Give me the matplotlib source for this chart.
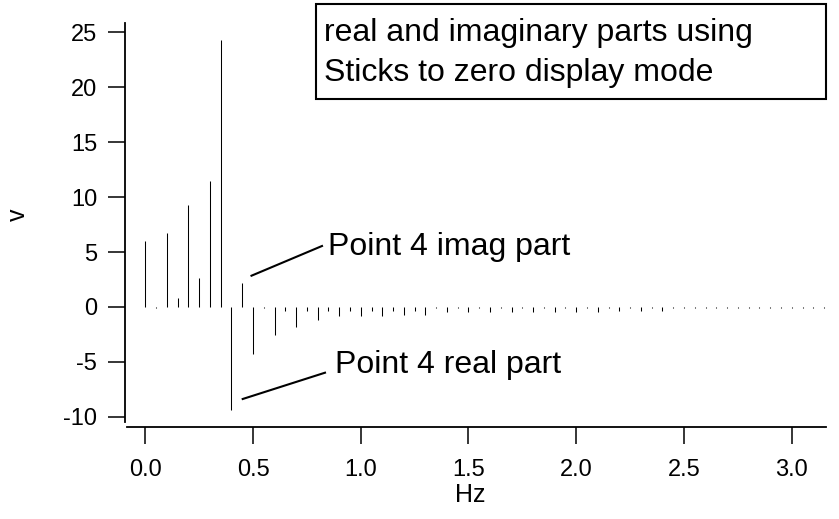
import numpy as np
import matplotlib
matplotlib.use("Agg")
import matplotlib.pyplot as plt

# Complex FFT points: real part drawn at point_hz, imaginary part half a bin later
point_hz = [0.0, 0.1, 0.2, 0.3, 0.4, 0.5, 0.6, 0.7, 0.8, 0.9,
            1.0, 1.1, 1.2, 1.3, 1.4, 1.5, 1.6, 1.7, 1.8, 1.9,
            2.0, 2.1, 2.2, 2.3, 2.4, 2.5, 2.6, 2.7, 2.8, 2.9,
            3.0, 3.1]
half_bin = 0.05
real_part = [6.0, 6.7, 9.25, 11.45, -9.4, -4.3, -2.55, -1.8, -1.15, -0.8,
             -0.8, -0.8, -0.75, -0.7, -0.45, -0.45, -0.45, -0.45, -0.42, -0.42,
             -0.42, -0.42, -0.4, -0.4, -0.38, -0.08, -0.08, -0.08, -0.08, -0.08,
             -0.08, -0.08]
imag_part = [-0.08, 0.8, 2.6, 24.3, 2.2, -0.1, -0.4, -0.4, -0.4, -0.4,
             -0.4, -0.4, -0.4, -0.12, -0.12, -0.12, -0.12, -0.12, -0.12, -0.12,
             -0.12, -0.12, -0.12, -0.12, -0.08, -0.08, -0.08, -0.08, -0.08, -0.08,
             -0.08, -0.08]

x_ticks = [0.0, 0.5, 1.0, 1.5, 2.0, 2.5, 3.0]
x_tick_labels = ["0.0", "0.5", "1.0", "1.5", "2.0", "2.5", "3.0"]
y_ticks = [-10, -5, 0, 5, 10, 15, 20, 25]
y_tick_labels = ["-10", "-5", "0", "5", "10", "15", "20", "25"]

plt.rcParams['font.family'] = ['Liberation Sans', 'DejaVu Sans']

W, H = 839, 519
fig = plt.figure(figsize=(W / 100, H / 100), dpi=100)

def fx(px):
    return px / W

def fy(py):
    return 1 - py / H

ax = fig.add_axes([fx(125), fy(427), fx(826) - fx(125), fy(23) - fy(427)])

# interleave real and imaginary sticks
xs = []
ys = []
for hz, re, im in zip(point_hz, real_part, imag_part):
    xs.append(hz)
    ys.append(re)
    xs.append(hz + half_bin)
    ys.append(im)
ax.vlines(xs, 0, ys, colors='black', linewidth=0.75)

ax.set_xlim(-0.094, 3.159)
ax.set_ylim(-10.91, 25.82)

ax.set_xticks(x_ticks)
ax.set_xticklabels(x_tick_labels)
ax.set_yticks(y_ticks)
ax.set_yticklabels(y_tick_labels)

for s in ['top', 'right']:
    ax.spines[s].set_visible(False)
for s in ['left', 'bottom']:
    ax.spines[s].set_linewidth(1.3)
ax.spines['left'].set_bounds(-10.45, 25.82)
ax.spines['bottom'].set_bounds(-0.085, 3.159)

ax.tick_params(axis='both', direction='out', length=12, width=1.1,
               labelsize=17, colors='black')
ax.tick_params(axis='x', pad=11)
ax.tick_params(axis='y', pad=8)

fig.text(fx(18), fy(215), "v", rotation=90, ha='center', va='center', fontsize=18)
fig.text(fx(470), fy(495), "Hz", ha='center', va='center', fontsize=18)

# Title box
box = plt.Rectangle((fx(316), fy(99)), fx(826) - fx(316), fy(4) - fy(99),
                    transform=fig.transFigure, fill=False, edgecolor='black',
                    linewidth=1.5)
fig.add_artist(box)
fig.text(fx(324), fy(41.5), "real and imaginary parts using", ha='left',
         va='baseline', fontsize=23)
fig.text(fx(324), fy(81.5), "Sticks to zero display mode", ha='left',
         va='baseline', fontsize=23)

# Annotations
fig.add_artist(plt.Line2D([fx(251.5), fx(322)], [fy(275.7), fy(246)],
                          transform=fig.transFigure, color='black', linewidth=1.5))
fig.text(fx(328), fy(255), "Point 4 imag part", ha='left', va='baseline', fontsize=23)
fig.add_artist(plt.Line2D([fx(242.7), fx(325)], [fy(399), fy(372.7)],
                          transform=fig.transFigure, color='black', linewidth=1.5))
fig.text(fx(335), fy(373.5), "Point 4 real part", ha='left', va='baseline', fontsize=23)

fig.savefig("out.png", dpi=100)
